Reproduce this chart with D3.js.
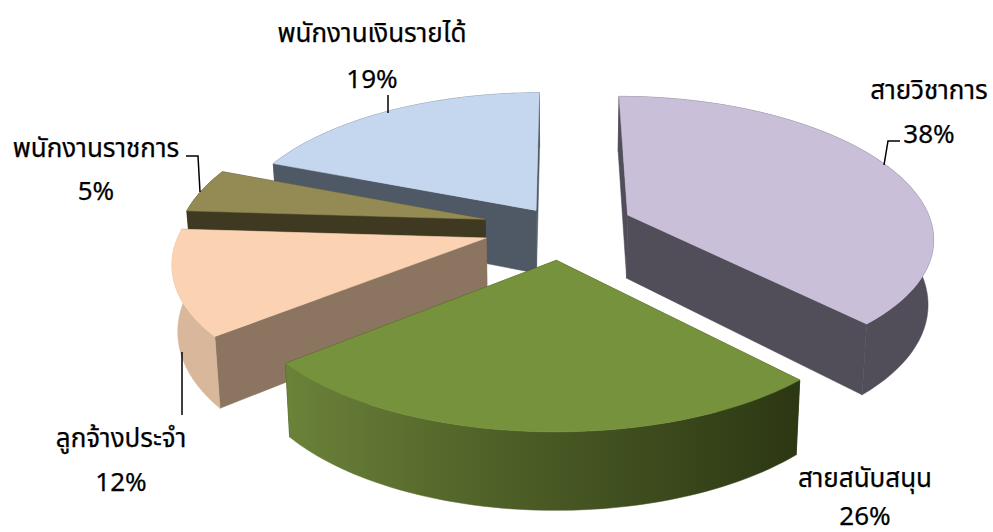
<!DOCTYPE html>
<html><head><meta charset="utf-8">
<script src="https://cdnjs.cloudflare.com/ajax/libs/d3/7.8.5/d3.min.js"></script>
<style>html,body{margin:0;padding:0;background:#fff}svg{display:block}
text{font-family:"Noto Sans","Noto Sans Thai","Noto Sans CJK SC",sans-serif;font-size:26px;fill:#000;stroke:#000;stroke-width:0.25}</style>
</head><body>
<script>
const categories = ["สายวิชาการ","สายสนับสนุน","ลูกจ้างประจำ","พนักงานราชการ","พนักงานเงินรายได้"];
const values = [38,26,12,5,19];
const topColors = ["#c9bfd9","#76923c","#fbd3b3","#948a54","#c5d7ef"];
const wallColors = ["#514d59","url(#greenWall)","#d8b79b","#3f3922","#4f5966"];
const cutColors = ["#514d59","#2f3a15","#8b7560","#3f3922","#4f5966"];
const explode = [0.238,0.234,0.255,0.257,0.148];
const paintOrder = [4,3,2,0,1];
const labelAnchors = [[929,99,143],[865,487,524.5],[121,447,491],[96,157,200],[372,42,88]];
const leaders = [
  [[900,141],[888,141],[884,165]],
  [],
  [[182,352],[182,415]],
  [[186,156],[198,156],[200,192]],
  [[388,95],[388,113]]
];

const W=993,H=532;
const svg=d3.select("body").append("svg").attr("width",W).attr("height",H);
const defs=svg.append("defs");
const g=defs.append("linearGradient").attr("id","greenWall").attr("gradientUnits","userSpaceOnUse")
  .attr("x1",287).attr("x2",800).attr("y1",0).attr("y2",0);
g.append("stop").attr("offset",0).attr("stop-color","#6b8239");
g.append("stop").attr("offset",0.45).attr("stop-color","#4c5d26");
g.append("stop").attr("offset",1).attr("stop-color","#2c3713");

const pie=d3.pie().sort(null).startAngle(0).endAngle(2*Math.PI);
const arcs=pie(values);

const cx=561,cy=227,R=305,K=138,perspX=0.15,perspY=0.137,depth=64,bottomShrink=0.985;
function project(X,Y,z){
  const sx=1/(1+perspX*Y), sy=1/(1+perspY*Y);
  const px=cx+R*X*sx*(z?bottomShrink:1);
  return [px, cy-K*Y*sy+(z?depth*sx:0)];
}
const line=d3.line();
const arcSteps=60;

const drawn=svg.append("g");
paintOrder.forEach(i=>{
  const a=arcs[i];
  const mid=(a.startAngle+a.endAngle)/2;
  const ox=explode[i]*Math.sin(mid), oy=explode[i]*Math.cos(mid);
  const angles=d3.range(arcSteps+1).map(k=>a.startAngle+(a.endAngle-a.startAngle)*k/arcSteps);
  const rim=angles.map(t=>[ox+Math.sin(t),oy+Math.cos(t)]);
  const apexTop=project(ox,oy,false), apexBot=project(ox,oy,true);
  const rimTop=rim.map(p=>project(p[0],p[1],false));
  const rimBot=rim.map(p=>project(p[0],p[1],true));
  const sl=drawn.append("g");
  const poly=(pts,fill)=>sl.append("path").attr("d",line(pts)+"Z").attr("fill",fill).attr("stroke",fill).attr("stroke-width",0.5);
  poly([apexTop,rimTop[0],rimBot[0],apexBot],cutColors[i]);
  poly([apexTop,rimTop[arcSteps],rimBot[arcSteps],apexBot],cutColors[i]);
  poly(rimTop.concat(rimBot.slice().reverse()),wallColors[i]);
  poly([apexTop].concat(rimTop),topColors[i]);
});

const lead=d3.line();
leaders.forEach(l=>{ if(l.length) svg.append("path").attr("d",lead(l)).attr("fill","none").attr("stroke","#000").attr("stroke-width",1.5); });

categories.forEach((c,i)=>{
  const [x,y1,y2]=labelAnchors[i];
  svg.append("text").attr("x",x).attr("y",y1).attr("text-anchor","middle").text(c);
  svg.append("text").attr("x",x).attr("y",y2).attr("text-anchor","middle").text(values[i]+"%");
});
</script>
</body></html>
